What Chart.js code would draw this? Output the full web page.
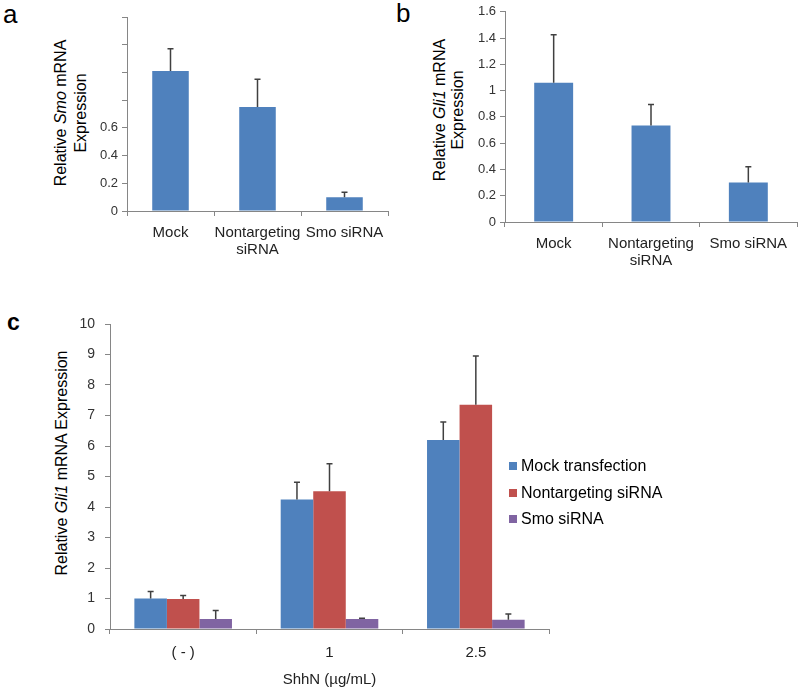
<!DOCTYPE html>
<html>
<head>
<meta charset="utf-8">
<script src="https://cdn.jsdelivr.net/npm/chart.js@4.4.1/dist/chart.umd.min.js"></script>
<style>
  body { margin: 0; width: 800px; height: 693px; background: #fff; position: relative; overflow: hidden;
         font-family: "Liberation Sans", Arial, sans-serif; }
  .panel { position: absolute; }
  .letter { position: absolute; font-size: 26px; color: #000; line-height: 1; }
  .ytitle { position: absolute; transform: rotate(-90deg); white-space: nowrap; text-align: center;
            font-size: 16px; color: #000; }
  .legend { position: absolute; left: 509px; top: 455px; font-size: 16px; color: #000; }
  .legend div { height: 26.5px; line-height: 22px; white-space: nowrap; }
  .legend span { display: inline-block; width: 8px; height: 8px; margin-right: 4px; vertical-align: 1px; }
</style>
</head>
<body>
<div class="letter" style="left:3px;top:1px;">a</div>
<div class="letter" style="left:396px;top:0px;">b</div>
<div class="letter" style="left:7px;top:311px;font-weight:bold;font-size:23px;">c</div>

<div class="ytitle" style="left:-29px;top:93px;width:200px;line-height:20px;">Relative <i>Smo</i> mRNA<br>Expression</div>
<div class="ytitle" style="left:349px;top:92px;width:200px;line-height:18px;">Relative <i>Gli1</i> mRNA<br>Expression</div>
<div class="ytitle" style="left:-88px;top:453px;width:300px;line-height:20px;">Relative <i>Gli1</i> mRNA Expression</div>

<div class="panel" style="left:0;top:0;"><canvas id="chartA" width="400" height="270"></canvas></div>
<div class="panel" style="left:400px;top:0;"><canvas id="chartB" width="400" height="270"></canvas></div>
<div class="panel" style="left:0;top:290px;"><canvas id="chartC" width="800" height="403"></canvas></div>

<div class="legend">
  <div><span style="background:#4F81BD"></span>Mock transfection</div>
  <div><span style="background:#C0504D"></span>Nontargeting siRNA</div>
  <div><span style="background:#8064A2"></span>Smo siRNA</div>
</div>

<script>
// panel a / b categories
const siCats = ["Mock", ["Nontargeting", "siRNA"], "Smo siRNA"];

// panel a: Smo mRNA
const smoMean = [1.01, 0.75, 0.10];
const smoErr = [0.16, 0.20, 0.035];

// panel b: Gli1 mRNA
const gliMean = [1.06, 0.735, 0.30];
const gliErr = [0.365, 0.16, 0.12];

// panel c: Gli1 vs ShhN dose
const doseCats = ["( - )", "1", "2.5"];
const mockMean = [1.0, 4.25, 6.2];
const mockErr = [0.23, 0.56, 0.59];
const nontMean = [0.98, 4.52, 7.35];
const nontErr = [0.12, 0.90, 1.60];
const smoSiMean = [0.33, 0.33, 0.30];
const smoSiErr = [0.28, 0.02, 0.19];

const BLUE = "#4F81BD", RED = "#C0504D", PURPLE = "#8064A2";
const AXIS = "#868686";
const FONT = '"Liberation Sans", Arial, sans-serif';

// draws upper error bars from each dataset's errors array
const errorBars = {
  id: "errorBars",
  afterDatasetsDraw(chart) {
    const ctx = chart.ctx;
    const yScale = chart.scales.y;
    chart.data.datasets.forEach((ds, i) => {
      const meta = chart.getDatasetMeta(i);
      meta.data.forEach((bar, j) => {
        const top = yScale.getPixelForValue(ds.data[j] + ds.errors[j]);
        ctx.save();
        ctx.strokeStyle = "#404040";
        ctx.lineWidth = 1.5;
        ctx.beginPath();
        ctx.moveTo(bar.x, bar.y);
        ctx.lineTo(bar.x, top);
        ctx.moveTo(bar.x - 3, top);
        ctx.lineTo(bar.x + 3, top);
        ctx.stroke();
        ctx.restore();
      });
    });
  },
};

function fmt(v) {
  return String(parseFloat(v.toFixed(1)));
}

function makeChart(id, cfg) {
  return new Chart(document.getElementById(id), {
    type: "bar",
    data: { labels: cfg.labels, datasets: cfg.datasets },
    plugins: [errorBars],
    options: {
      responsive: false,
      animation: false,
      devicePixelRatio: 1,
      layout: { padding: cfg.padding },
      plugins: { legend: { display: false }, tooltip: { enabled: false } },
      datasets: { bar: { barPercentage: 1, categoryPercentage: cfg.catPct } },
      scales: {
        x: {
          offset: true,
          grid: { display: true, drawOnChartArea: false, offset: true, tickLength: 5, color: AXIS },
          border: { color: AXIS },
          ticks: { color: "#222", padding: cfg.xPad, font: { family: FONT, size: cfg.xFont, lineHeight: 1.1 }, maxRotation: 0, autoSkip: false },
          title: cfg.xTitle
            ? { display: true, text: cfg.xTitle, color: "#222", font: { family: FONT, size: 15 }, padding: { top: 0, bottom: 4 } }
            : { display: false },
          afterFit: (s) => { s.height = cfg.xHeight; },
        },
        y: {
          min: 0,
          max: cfg.yMax,
          grid: { display: true, drawOnChartArea: false, tickLength: 5, color: AXIS },
          border: { color: AXIS },
          ticks: {
            stepSize: cfg.yStep,
            color: "#333",
            padding: cfg.yPad,
            font: { family: FONT, size: cfg.yFont },
            callback: (v) => (cfg.yLabelMax === undefined || v <= cfg.yLabelMax + 1e-9 ? fmt(v) : ""),
          },
          afterFit: (s) => { s.width = cfg.yWidth; },
        },
      },
    },
  });
}

makeChart("chartA", {
  labels: siCats,
  datasets: [{ data: smoMean, errors: smoErr, backgroundColor: BLUE }],
  padding: { left: 0, top: 17, right: 12, bottom: 0 },
  catPct: 0.42, yMax: 1.4, yStep: 0.2, yLabelMax: 0.6,
  yWidth: 127, xHeight: 59, xPad: 9, yPad: 4, xFont: 15, yFont: 13,
});

makeChart("chartB", {
  labels: siCats,
  datasets: [{ data: gliMean, errors: gliErr, backgroundColor: BLUE }],
  padding: { left: 0, top: 9, right: 3, bottom: 0 },
  catPct: 0.4, yMax: 1.6, yStep: 0.2,
  yWidth: 105, xHeight: 48, xPad: 9, yPad: 4, xFont: 15, yFont: 13,
});

makeChart("chartC", {
  labels: doseCats,
  datasets: [
    { label: "Mock transfection", data: mockMean, errors: mockErr, backgroundColor: BLUE },
    { label: "Nontargeting siRNA", data: nontMean, errors: nontErr, backgroundColor: RED },
    { label: "Smo siRNA", data: smoSiMean, errors: smoSiErr, backgroundColor: PURPLE },
  ],
  padding: { left: 0, top: 34, right: 251, bottom: 0 },
  catPct: 0.667, yMax: 10, yStep: 1,
  yWidth: 110, xHeight: 64, xPad: 11, yPad: 10, xFont: 15, yFont: 14,
  xTitle: "ShhN (µg/mL)",
});
</script>
</body>
</html>
